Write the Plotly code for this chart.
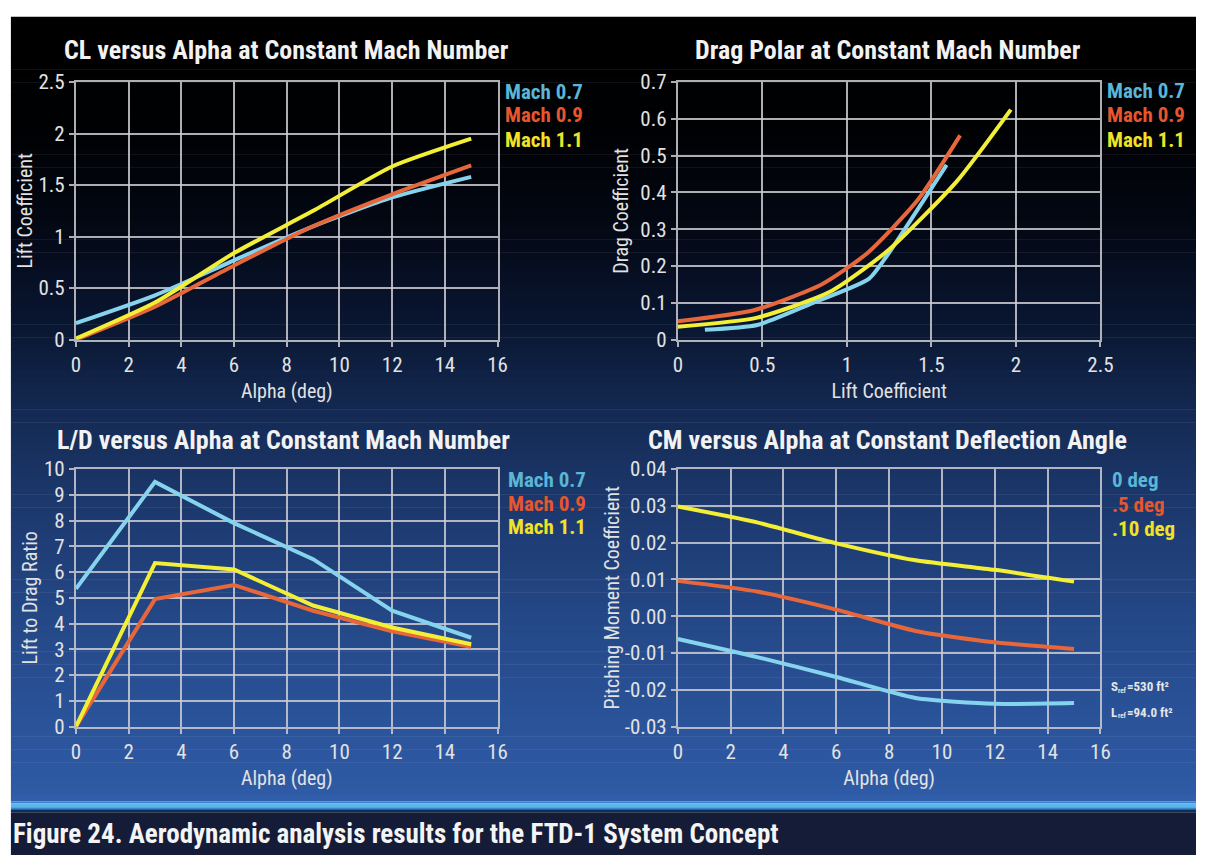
import plotly.graph_objects as go

W, H = 1209, 867

# ---- data -------------------------------------------------------------
alpha = [0, 3, 6, 9, 12, 15]

# lift coefficient vs alpha
cl_mach07 = [0.16, 0.43, 0.77, 1.10, 1.38, 1.58]
cl_mach09 = [0.00, 0.32, 0.72, 1.10, 1.41, 1.69]
cl_mach11 = [0.01, 0.36, 0.84, 1.25, 1.68, 1.95]

# drag polar (lift coefficient, drag coefficient)
polar_cl_mach07 = [0.16, 0.47, 0.80, 1.13, 1.24, 1.59]
polar_cd_mach07 = [0.027, 0.040, 0.100, 0.165, 0.230, 0.475]
polar_cl_mach09 = [0.00, 0.45, 0.85, 1.12, 1.42, 1.67]
polar_cd_mach09 = [0.050, 0.080, 0.150, 0.235, 0.380, 0.555]
polar_cl_mach11 = [0.00, 0.47, 0.90, 1.25, 1.65, 1.97]
polar_cd_mach11 = [0.035, 0.060, 0.130, 0.245, 0.430, 0.625]

# lift-to-drag ratio vs alpha
ld_mach07 = [5.35, 9.50, 7.90, 6.50, 4.50, 3.45]
ld_mach09 = [0.00, 4.95, 5.50, 4.50, 3.70, 3.10]
ld_mach11 = [0.00, 6.35, 6.10, 4.70, 3.85, 3.20]

# pitching moment vs alpha at fixed deflection
cm_def0 = [-0.0062, -0.0111, -0.0165, -0.0222, -0.0238, -0.0236]
cm_def5 = [0.0096, 0.0067, 0.0018, -0.0040, -0.0071, -0.0089]
cm_def10 = [0.0298, 0.0255, 0.0198, 0.0152, 0.0126, 0.0094]

# pitching-moment axis ticks (plain hyphen for negatives)
cm_tickvals = [-0.03, -0.02, -0.01, 0.0, 0.01, 0.02, 0.03, 0.04]
cm_ticktext = ["-0.03", "-0.02", "-0.01", "0.00", "0.01", "0.02", "0.03", "0.04"]

mach_labels = ["Mach 0.7", "Mach 0.9", "Mach 1.1"]
deflection_labels = ["0 deg", ".5 deg", ".10 deg"]

# ---- styling ----------------------------------------------------------
COND = "Roboto Condensed, DejaVu Sans Condensed, Liberation Sans Narrow, Arial Narrow, Roboto, sans-serif"
LINE_COLORS = ["#86d3ee", "#e8673a", "#f3ee36"]
LABEL_COLORS = ["#5ab6d6", "#e7562c", "#f1e228"]
GRID = "rgba(205,205,210,0.85)"
TICK_TXT = "#e2e2e2"


def fx(x):
    return x / W


def fy(y):
    return 1 - y / H


fig = go.Figure()

# ---- background: vertical gradient, light stripe and caption bar -------
stops = [
    (5, (0, 0, 0)), (120, (0, 1, 3)), (220, (3, 8, 20)), (330, (10, 24, 52)),
    (420, (21, 43, 86)), (520, (29, 58, 112)), (650, (38, 75, 140)),
    (800, (46, 90, 165)), (812, (50, 96, 172)),
]


def grad_color(y):
    for (y0, c0), (y1, c1) in zip(stops[:-1], stops[1:]):
        if y0 <= y <= y1:
            t = (y - y0) / (y1 - y0)
            return "rgb(%d,%d,%d)" % tuple(round(a + (b - a) * t) for a, b in zip(c0, c1))
    return "rgb(%d,%d,%d)" % stops[-1][1]


shapes = []
n_bands = 120
top, bottom = 5, 812
step = (bottom - top) / n_bands
for i in range(n_bands):
    y0 = top + i * step
    y1 = y0 + step + 0.6
    shapes.append(dict(type="rect", xref="paper", yref="paper", layer="below",
                       x0=fx(6), x1=1, y0=fy(min(y1, bottom)), y1=fy(y0),
                       fillcolor=grad_color(y0 + step / 2), line=dict(width=0)))

stripe = [(812, 814, "rgb(58,128,200)"), (814, 818, "rgb(92,182,236)"),
          (818, 820, "rgb(55,135,205)"), (820, 823, "rgb(18,44,90)")]
for y0, y1, c in stripe:
    shapes.append(dict(type="rect", xref="paper", yref="paper", layer="below",
                       x0=fx(6), x1=1, y0=fy(y1), y1=fy(y0),
                       fillcolor=c, line=dict(width=0)))
shapes.append(dict(type="rect", xref="paper", yref="paper", layer="below",
                   x0=fx(6), x1=1, y0=0, y1=fy(823),
                   fillcolor="rgb(21,28,56)", line=dict(width=0)))

# ---- traces -----------------------------------------------------------
def add_lines(xs_list, ys_list, xa, ya, shape):
    for xs, ys, col in zip(xs_list, ys_list, LINE_COLORS):
        line = dict(color=col, width=4, shape=shape)
        if shape == "spline":
            line["smoothing"] = 0.6
        fig.add_trace(go.Scatter(x=xs, y=ys, mode="lines", line=line,
                                 xaxis=xa, yaxis=ya, showlegend=False,
                                 hoverinfo="x+y"))


add_lines([alpha] * 3, [cl_mach07, cl_mach09, cl_mach11], "x", "y", "spline")
add_lines([polar_cl_mach07, polar_cl_mach09, polar_cl_mach11],
          [polar_cd_mach07, polar_cd_mach09, polar_cd_mach11], "x2", "y2", "spline")
add_lines([alpha] * 3, [ld_mach07, ld_mach09, ld_mach11], "x3", "y3", "linear")
add_lines([alpha] * 3, [cm_def0, cm_def5, cm_def10], "x4", "y4", "spline")

# ---- axes ---------------------------------------------------------------
def axis(domain, rng, dtick, anchor, title, standoff, **extra):
    d = dict(domain=domain, range=rng, dtick=dtick, tick0=rng[0], anchor=anchor,
             showgrid=True, gridcolor=GRID, gridwidth=2, zeroline=False,
             showline=True, mirror=True, linecolor=GRID, linewidth=2,
             ticks="outside", ticklen=5, tickwidth=2, tickcolor=GRID,
             tickfont=dict(family=COND, size=21, color=TICK_TXT), fixedrange=True,
             title=dict(text=title, standoff=standoff,
                        font=dict(family=COND, size=20, color=TICK_TXT)))
    d.update(extra)
    return d


left_x = [fx(72), fx(500)]
right_x = [fx(683), fx(1112)]
top_y = [fy(337), fy(72)]
bot_y = [fy(735), fy(470)]

fig.update_layout(
    xaxis=axis(left_x, [0, 16], 2, "y", "Alpha (deg)", 8),
    yaxis=axis(top_y, [0, 2.5], 0.5, "x", "Lift Coefficient", 0),
    xaxis2=axis(right_x, [0, 2.5], 0.5, "y2", "Lift Coefficient", 8),
    yaxis2=axis(top_y, [0, 0.7], 0.1, "x2", "Drag Coefficient", 6),
    xaxis3=axis(left_x, [0, 16], 2, "y3", "Alpha (deg)", 8),
    yaxis3=axis(bot_y, [0, 10], 1, "x3", "Lift to Drag Ratio", 1),
    xaxis4=axis(right_x, [0, 16], 2, "y4", "Alpha (deg)", 8),
    yaxis4=axis(bot_y, [-0.03, 0.04], 0.01, "x4", "Pitching Moment Coefficient", 0,
                tickmode="array", tickvals=cm_tickvals, ticktext=cm_ticktext),
)

# ---- text -------------------------------------------------------------
ann = []


def text(x, y, s, size, color="#f2f2f2", bold=False, xanchor="center"):
    ann.append(dict(x=fx(x), y=fy(y), xref="paper", yref="paper", showarrow=False,
                    text=("<b>%s</b>" % s) if bold else s,
                    xanchor=xanchor, yanchor="middle",
                    font=dict(family=COND, size=size, color=color)))


# panel titles
text(286, 39, "CL versus Alpha at Constant Mach Number", 26, bold=True)
text(896, 39, "Drag Polar at Constant Mach Number", 26, bold=True)
text(283, 440, "L/D versus Alpha at Constant Mach Number", 26, bold=True)
text(896, 440, "CM versus Alpha at Constant Deflection Angle", 26, bold=True)

# series labels
for lx, ys, labels in [(506, [82, 106, 132], mach_labels),
                       (1117, [81, 106, 132], mach_labels),
                       (509, [481, 506, 530], mach_labels),
                       (1122, [481, 507, 532], deflection_labels)]:
    for yy, lab, col in zip(ys, labels, LABEL_COLORS):
        text(lx, yy, lab, 21, col, bold=True, xanchor="left")

# reference area and length (symbol, small "ref" subscript, value)
REF_TXT = "#e6e6e6"
for yy, sym, val in [(694, "S", "=530 ft²"), (720, "L", "=94.0 ft²")]:
    text(1121, yy, sym, 13, REF_TXT, bold=True, xanchor="left")
    text(1128, yy + 4, "ref", 7, REF_TXT, bold=True, xanchor="left")
    text(1137, yy, val, 13, REF_TXT, bold=True, xanchor="left")

# caption
text(6, 845, "Figure 24. Aerodynamic analysis results for the FTD-1 System Concept",
     27, "#f4f4f4", bold=True, xanchor="left")

fig.update_layout(
    width=W, height=H, margin=dict(l=0, r=0, t=0, b=0),
    paper_bgcolor="white", plot_bgcolor="rgba(0,0,0,0)",
    shapes=shapes, annotations=ann, showlegend=False,
)

fig.write_html("out.html")
